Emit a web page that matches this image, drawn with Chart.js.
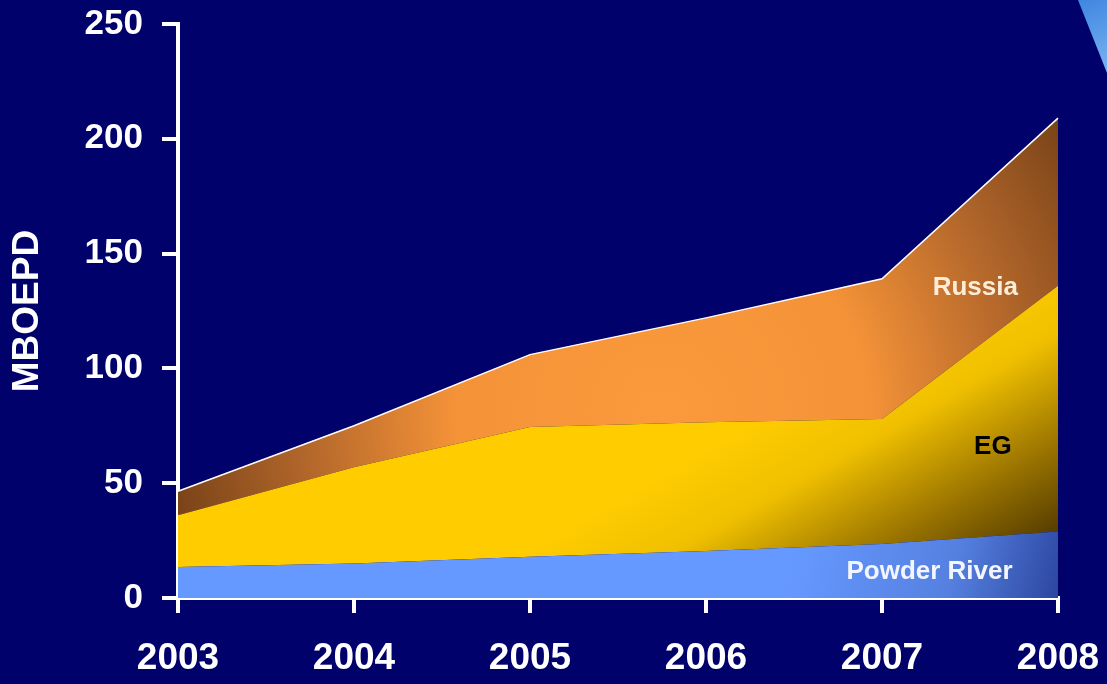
<!DOCTYPE html>
<html>
<head>
<meta charset="utf-8">
<script src="https://cdn.jsdelivr.net/npm/chart.js@4/dist/chart.umd.min.js"></script>
<style>
  html, body { margin: 0; padding: 0; background: #01016b; }
  #wrap { width: 1107px; height: 684px; position: relative; }
</style>
</head>
<body>
<div id="wrap"><canvas id="c" width="1107" height="684"></canvas></div>
<script>
const years = ['2003', '2004', '2005', '2006', '2007', '2008'];
const powderRiver = [13.5, 15, 18, 20.5, 23.5, 29];
const eg = [22.5, 42, 56.5, 56, 54.5, 107];
const russia = [10.5, 18, 31.5, 45.5, 61, 73];
const yTicks = [0, 50, 100, 150, 200, 250];
const seriesNames = ['Powder River', 'EG', 'Russia'];

const FONT = '"Liberation Sans", Arial, sans-serif';

function russiaFill(ctx) {
  const ca = ctx.chart.chartArea;
  if (!ca) return '#e08a35';
  const c = ctx.chart.ctx;
  const cx = ca.left + (ca.right - ca.left) * 0.55;
  const cy = ca.top + (ca.bottom - ca.top) * 0.68;
  const g = c.createRadialGradient(cx, cy, 0, cx, cy, 520);
  g.addColorStop(0, '#fb9a3c');
  g.addColorStop(0.4, '#f49238');
  g.addColorStop(0.7, '#b0652a');
  g.addColorStop(1, '#6e3c14');
  return g;
}
function egFill(ctx) {
  const ca = ctx.chart.chartArea;
  if (!ca) return '#ffcc00';
  const c = ctx.chart.ctx;
  const g = c.createLinearGradient(ca.left + 702, ca.top + 326, ca.left + 822, ca.bottom - 38);
  g.addColorStop(0, '#ffcc00');
  g.addColorStop(0.3, '#f0c000');
  g.addColorStop(0.7, '#9a7400');
  g.addColorStop(1, '#5a4000');
  return g;
}
function prFill(ctx) {
  const ca = ctx.chart.chartArea;
  if (!ca) return '#6699ff';
  const c = ctx.chart.ctx;
  const g = c.createLinearGradient(ca.left + 620, ca.bottom - 70, ca.right, ca.bottom);
  g.addColorStop(0, '#6699ff');
  g.addColorStop(0.6, '#5580e0');
  g.addColorStop(1, '#2c46a0');
  return g;
}

const decor = {
  id: 'decor',
  beforeDraw(chart) {
    const c = chart.ctx;
    c.save();
    const g = c.createLinearGradient(1078, 0, 1107, 73);
    g.addColorStop(0, '#3f86e0');
    g.addColorStop(1, '#7ab4f2');
    c.fillStyle = g;
    c.beginPath();
    c.moveTo(1078, 0);
    c.lineTo(1107, 0);
    c.lineTo(1107, 73);
    c.closePath();
    c.fill();
    c.restore();
  },
  afterDatasetsDraw(chart) {
    const c = chart.ctx;
    const xs = chart.scales.x, ys = chart.scales.y;
    const x07 = xs.getPixelForValue(4), x08 = xs.getPixelForValue(5);
    c.save();
    c.font = 'bold 26px ' + FONT;
    c.textAlign = 'center';
    c.textBaseline = 'middle';
    c.fillStyle = '#fbeed8';
    c.fillText(seriesNames[2], x07 + (x08 - x07) * 0.53, ys.getPixelForValue(135));
    c.fillStyle = '#000000';
    c.fillText(seriesNames[1], x07 + (x08 - x07) * 0.63, ys.getPixelForValue(66));
    c.fillStyle = '#f4f6ff';
    c.fillText(seriesNames[0], x07 + (x08 - x07) * 0.27, ys.getPixelForValue(11.5));
    c.restore();
  }
};

function noPad(s) { s.paddingLeft = 0; s.paddingRight = 0; s.paddingTop = 0; s.paddingBottom = 0; }

new Chart(document.getElementById('c'), {
  type: 'line',
  data: {
    labels: years,
    datasets: [
      { label: seriesNames[0], data: powderRiver, fill: 'origin', backgroundColor: prFill, borderWidth: 0, borderColor: 'rgba(0,0,0,0)' },
      { label: seriesNames[1], data: eg, fill: '-1', backgroundColor: egFill, borderWidth: 0, borderColor: 'rgba(0,0,0,0)' },
      { label: seriesNames[2], data: russia, fill: '-1', backgroundColor: russiaFill, borderWidth: 1.5, borderColor: '#ffffff' }
    ]
  },
  options: {
    responsive: false,
    animation: false,
    events: [],
    elements: { point: { radius: 0 }, line: { tension: 0 } },
    layout: { padding: { top: 24, right: 49, bottom: 0, left: 0 } },
    plugins: { legend: { display: false }, tooltip: { enabled: false } },
    scales: {
      x: {
        offset: false,
        grid: { drawOnChartArea: false, drawTicks: true, tickLength: 15, color: '#ffffff', lineWidth: 4 },
        border: { display: true, color: '#ffffff', width: 4 },
        ticks: { color: '#ffffff', font: { family: FONT, size: 37, weight: 'bold' }, padding: 24, maxRotation: 0 },
        afterFit(s) { s.height = 86; noPad(s); }
      },
      y: {
        stacked: true,
        min: 0, max: 250,
        afterBuildTicks(s) { s.ticks = yTicks.map(v => ({ value: v })); },
        grid: { drawOnChartArea: false, drawTicks: true, tickLength: 16, color: '#ffffff', lineWidth: 4 },
        border: { display: true, color: '#ffffff', width: 4 },
        ticks: { color: '#ffffff', font: { family: FONT, size: 35, weight: 'bold', lineHeight: 1 }, padding: 19 },
        title: { display: true, text: 'MBOEPD', color: '#ffffff', font: { family: FONT, size: 37, weight: 'bold', lineHeight: 1.2 }, padding: { top: 6, bottom: 0 } },
        afterFit(s) { s.width = 178; noPad(s); }
      }
    }
  },
  plugins: [decor]
});
</script>
</body>
</html>
